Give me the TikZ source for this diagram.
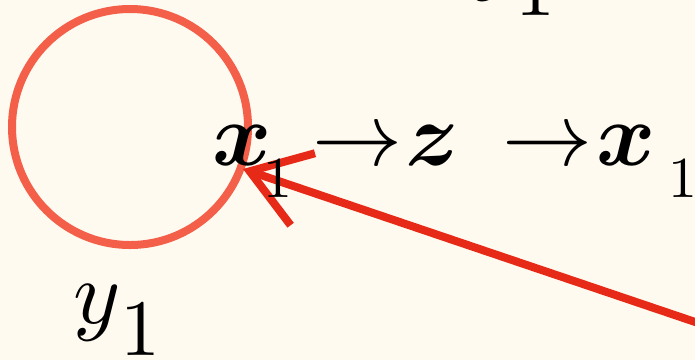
\documentclass[tikz,border=0pt]{standalone}
\usepackage{amsmath,bm}
\usetikzlibrary{arrows.meta}
\definecolor{bgcream}{HTML}{FFFAF0}
\definecolor{ringred}{HTML}{F45F4A}
\definecolor{arrowred}{HTML}{E62A17}

\begin{document}
\begin{tikzpicture}[
    x=0.5pt, y=-0.5pt,
    glyph/.style={inner sep=0pt, anchor=base west, scale=4.5},
    subglyph/.style={inner sep=0pt, anchor=base west, scale=2.9},
    ysub/.style={inner sep=0pt, anchor=base west, scale=4},
    ring/.style={draw=ringred, line width=4pt},
    pointer/.style={draw=arrowred, line width=4pt, line cap=round,
      -{Straight Barb[length=28pt, width=38pt, line width=4pt]}}
  ]
    \fill[bgcream] (0,0) rectangle (695,360);
    \useasboundingbox (0,0) rectangle (695,360);
    \clip (0,0) rectangle (695,360);

    % loop round y_1
    \node[circle, minimum size=236pt, inner sep=0pt] (loop) at (130,127) {};
    \draw[ring] (loop.center) circle[radius=118];

    % red pointer
    \coordinate (tail) at (710,327);
    \coordinate (tip) at (243,169);
    \draw[pointer] (tail) -- (tip);

    % chain x_1 -> z -> x_1
    \node[glyph] (xa) at (211,165) {$\bm{x}$};
    \node[subglyph] (sa) at (262,197) {$1$};
    \node[glyph] (ra) at (311,165) {$\rightarrow$};
    \node[glyph] (zz) at (404,165) {$\bm{z}$};
    \node[glyph] (rb) at (501,165) {$\rightarrow$};
    \node[glyph] (xb) at (595,165) {$\bm{x}$};
    \node[subglyph] (sb) at (667,197) {$1$};

    % labels y_1
    \node[glyph] (ya) at (72,323) {$y$};
    \node[ysub] (yas) at (119,355) {$1$};
    \node[glyph] (yb) at (467,-17) {$y$};
    \node[ysub] (ybs) at (514,15) {$1$};
  \end{tikzpicture}
\end{document}
